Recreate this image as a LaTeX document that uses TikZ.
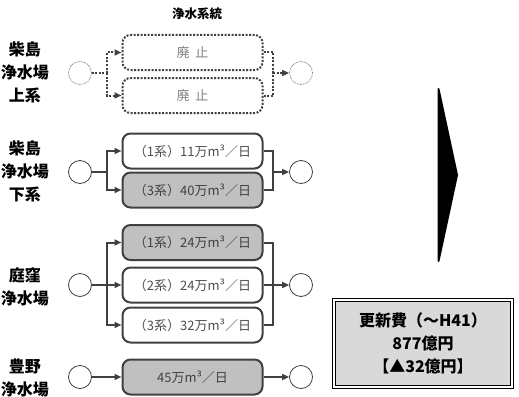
\documentclass[tikz,border=0pt]{standalone}
\usepackage{fontspec}
\setmainfont{Noto Sans CJK JP}
\usetikzlibrary{arrows.meta}

\definecolor{lineg}{HTML}{404040}
\definecolor{boxg}{HTML}{C0C0C0}
\definecolor{textg}{HTML}{4D4D4D}
\definecolor{panelg}{HTML}{D9D9D9}

\tikzset{
	plant/.style={circle, draw=lineg, line width=0.8pt, minimum size=23pt, inner sep=0pt},
	plantoff/.style={plant, draw=gray, dash pattern=on 0.8pt off 0.8pt},
	pipe/.style={draw=lineg, line width=2pt},
	flow/.style={pipe, -{Triangle[length=7pt,width=6pt]}},
	dots/.style={dash pattern=on 2pt off 1.5pt},
	sys/.style={draw=lineg, line width=2pt, rounded corners=8pt, minimum width=140pt,
		minimum height=35pt, inner sep=0pt, text=textg, font=\fontsize{13}{15}\selectfont},
	sysrenew/.style={sys, fill=boxg, text=lineg},
	sysoff/.style={sys, dots, text=gray},
	site/.style={align=center, font=\bfseries\fontsize{16}{23}\selectfont},
}

\begin{document}
\begin{tikzpicture}[x=1pt, y=-1pt]
	\useasboundingbox (0,0) rectangle (519,396);

	% title
	\node[font=\bfseries\fontsize{12.5}{14}\selectfont] (title) at (197,14) {浄水系統};

	% plants
	\node[site] (site1) at (25,72) {柴島\\浄水場\\上系};
	\node[site] (site2) at (25,171) {柴島\\浄水場\\下系};
	\node[site] (site3) at (25,287) {庭窪\\浄水場};
	\node[site] (site4) at (25,378) {豊野\\浄水場};

	% upper system (abolished)
	\node[plantoff] (in1) at (80,73) {};
	\node[plantoff] (out1) at (301,73) {};
	\node[sysoff] (s11) at (192.5,52.5) {廃\hspace{0.45em}止};
	\node[sysoff] (s12) at (192.5,95.5) {廃\hspace{0.45em}止};
	\coordinate (jl1) at (107,73);
	\coordinate (jr1) at (273,73);
	\draw[pipe, dots] (in1) -- (jl1);
	\draw[flow, dots] (jl1) |- (s11.west);
	\draw[flow, dots] (jl1) |- (s12.west);
	\draw[pipe, dots] (s11.east) -| (jr1);
	\draw[pipe, dots] (s12.east) -| (jr1);
	\draw[flow, dots] (jr1) -- (out1);

	% lower system
	\node[plant] (in2) at (80,172) {};
	\node[plant] (out2) at (301,172) {};
	\node[sys] (s21) at (192.5,151) {（1系）11万m³／日};
	\node[sysrenew] (s22) at (192.5,190) {（3系）40万m³／日};
	\coordinate (jl2) at (107,172);
	\coordinate (jr2) at (273,172);
	\draw[pipe] (in2) -- (jl2);
	\draw[flow] (jl2) |- (s21.west);
	\draw[flow] (jl2) |- (s22.west);
	\draw[pipe] (s21.east) -| (jr2);
	\draw[pipe] (s22.east) -| (jr2);
	\draw[flow] (jr2) -- (out2);

	% niwakubo
	\node[plant] (in3) at (80,285) {};
	\node[plant] (out3) at (301,285) {};
	\node[sysrenew] (s31) at (192.5,242.5) {（1系）24万m³／日};
	\node[sys] (s32) at (192.5,285) {（2系）24万m³／日};
	\node[sys] (s33) at (192.5,325) {（3系）32万m³／日};
	\coordinate (jl3) at (107,285);
	\coordinate (jr3) at (273,285);
	\draw[pipe] (in3) -- (jl3);
	\draw[flow] (jl3) |- (s31.west);
	\draw[flow] (jl3) -- (s32.west);
	\draw[flow] (jl3) |- (s33.west);
	\draw[pipe] (s31.east) -| (jr3);
	\draw[pipe] (s32.east) -- (jr3);
	\draw[pipe] (s33.east) -| (jr3);
	\draw[flow] (jr3) -- (out3);

	% toyono
	\node[plant] (in4) at (80,377) {};
	\node[plant] (out4) at (301,377) {};
	\node[sysrenew] (s41) at (192.5,377) {45万m³／日};
	\draw[flow] (in4) -- (s41);
	\draw[flow] (s41) -- (out4);

	% big arrow
	\filldraw[line width=2pt, line join=round] (438.5,89) -- (457,175) -- (438.5,261) -- cycle;

	% cost
	\node[draw, double=white, double distance=2pt, line width=1pt, fill=panelg,
		minimum width=178pt, minimum height=87pt, align=center,
		font=\bfseries\fontsize{16}{23}\selectfont] (cost) at (423,343.5)
		{更新費（～H41）\\877億円\\【▲32億円】};
\end{tikzpicture}
\end{document}
